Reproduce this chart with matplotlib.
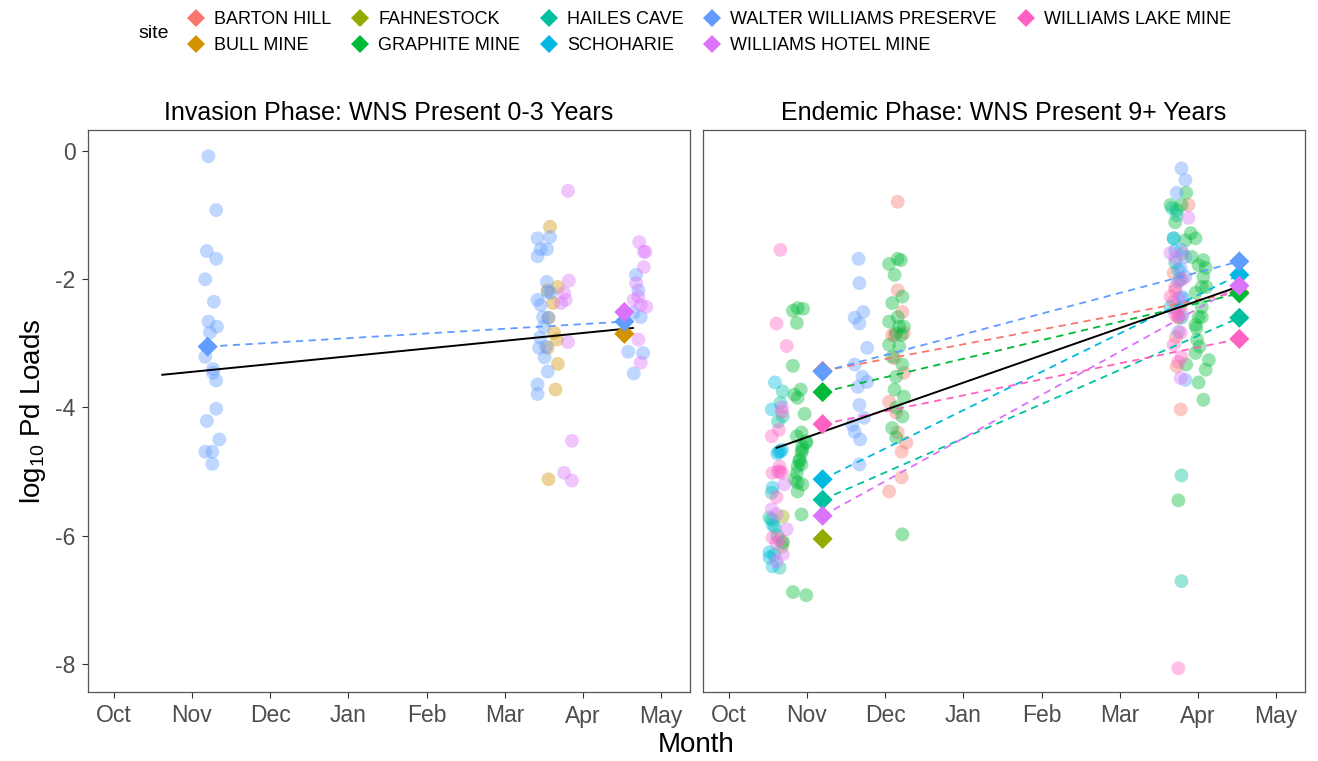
import numpy as np
import matplotlib.pyplot as plt
from matplotlib.lines import Line2D

plt.rcParams['font.family'] = ['Liberation Sans', 'DejaVu Sans']
plt.rcParams['mathtext.fontset'] = 'custom'
plt.rcParams['mathtext.rm'] = 'Liberation Sans'

sites = ["BARTON HILL", "BULL MINE", "FAHNESTOCK", "GRAPHITE MINE", "HAILES CAVE",
         "SCHOHARIE", "WALTER WILLIAMS PRESERVE", "WILLIAMS HOTEL MINE", "WILLIAMS LAKE MINE"]
colors = ["#F8766D", "#D39200", "#93AA00", "#00BA38", "#00C19F",
          "#00B9E3", "#619CFF", "#DB72FB", "#FF61C3"]
months = ["Oct", "Nov", "Dec", "Jan", "Feb", "Mar", "Apr", "May"]
titles = ["Invasion Phase: WNS Present 0-3 Years", "Endemic Phase: WNS Present 9+ Years"]

# x = months since 1 Oct, y = log10 Pd load
# ---- invasion phase samples
inv_wwp_x = [1.21, 1.31, 1.19, 1.31, 1.17, 1.28, 1.21, 1.32, 1.23, 1.17, 1.27, 1.27, 1.31, 1.31, 1.19, 1.35, 1.17, 1.26, 1.26,
             5.42, 5.58, 5.46, 5.54, 5.42, 5.54, 5.42, 5.46, 5.55, 5.59, 5.49, 5.56, 5.50, 5.45, 5.44, 5.53, 5.51, 5.55, 5.42, 5.42,
             6.68, 6.71, 6.65, 6.74, 6.58, 6.77, 6.65]
inv_wwp_y = [-0.08, -0.92, -1.56, -1.68, -2.00, -2.35, -2.66, -2.74, -2.83, -3.21, -3.40, -3.46, -3.58, -4.02, -4.21, -4.50, -4.69, -4.69, -4.88,
             -1.36, -1.34, -1.53, -1.53, -1.64, -2.04, -2.32, -2.40, -2.20, -2.21, -2.59, -2.60, -2.74, -2.91, -3.07, -3.05, -3.22, -3.44, -3.64, -3.79,
             -1.93, -2.17, -2.52, -2.59, -3.13, -3.15, -3.47]
inv_bull_x = [5.58, 5.68, 5.55, 5.62, 5.63, 5.67, 5.55, 5.68, 5.65, 5.56, 5.56]
inv_bull_y = [-1.18, -2.12, -2.17, -2.37, -2.83, -2.94, -3.07, -3.32, -3.72, -5.12, -2.60]
inv_whm_x = [5.81, 5.82, 5.76, 5.78, 5.72, 5.81, 5.86, 5.76, 5.86,
             6.72, 6.78, 6.80, 6.78, 6.68, 6.71, 6.65, 6.74, 6.81, 6.71, 6.74]
inv_whm_y = [-0.62, -2.02, -2.21, -2.32, -2.37, -2.98, -4.52, -5.02, -5.14,
             -1.42, -1.57, -1.57, -1.81, -2.06, -2.27, -2.32, -2.40, -2.43, -2.94, -3.30]

# ---- endemic phase samples
end_bh_x = [2.16, 2.16, 2.22, 2.12, 2.24, 2.09, 2.12, 2.24, 2.05, 2.14, 2.16, 2.27, 2.21, 2.21, 2.05,
            5.88, 5.69, 5.71, 5.69, 5.78, 5.73, 5.78, 5.75, 5.72, 5.80]
end_bh_y = [-0.79, -2.17, -2.51, -2.87, -2.84, -2.87, -3.23, -3.46, -3.91, -4.08, -4.39, -4.55, -4.69, -5.09, -5.31,
            -0.84, -1.90, -2.17, -2.35, -2.43, -3.36, -4.03, -2.60, -2.90, -1.60]
end_fah_x = [0.69, 0.69, 0.68]
end_fah_y = [-5.70, -6.09, -6.17]
end_gra_x = [0.82, 0.88, 0.95, 0.87, 0.82, 0.84, 0.92, 0.88, 0.97, 0.93, 0.87, 0.99, 0.94, 0.93, 0.90, 0.88, 0.99, 0.94, 0.91, 0.93,
             0.87, 0.84, 0.88, 0.94, 0.88, 0.93, 0.82, 0.99,
             2.05, 2.16, 2.20, 2.12, 2.22, 2.09, 2.05, 2.16, 2.18, 2.24, 2.14, 2.21, 2.05, 2.18, 2.09, 2.22, 2.14, 2.12, 2.24, 2.14,
             2.22, 2.09, 2.14, 2.22,
             5.85, 5.65, 5.73, 5.79, 5.71, 5.91, 5.97, 5.84, 6.07, 6.01, 5.92, 6.10, 6.07, 6.05, 6.11, 5.97, 6.05, 6.01, 5.97, 6.05,
             5.98, 5.99, 6.02, 5.97, 6.14, 6.10, 6.01, 6.07, 5.85, 5.75]
end_gra_y = [-2.49, -2.45, -2.46, -2.68, -3.35, -3.80, -3.72, -3.85, -4.10, -4.39, -4.45, -4.53, -4.61, -4.70, -4.84, -4.92, -4.55, -4.66, -4.81, -4.89,
             -5.02, -5.12, -5.17, -5.20, -5.31, -5.67, -6.88, -6.93,
             -1.76, -1.68, -1.70, -1.93, -2.27, -2.37, -2.66, -2.59, -2.74, -2.74, -2.84, -2.87, -3.02, -3.05, -3.21, -3.33, -3.52, -3.72, -3.83, -4.00,
             -4.14, -4.32, -4.47, -5.98,
             -0.65, -0.84, -0.92, -0.84, -1.11, -1.28, -1.36, -1.39, -1.70, -1.78, -1.65, -1.82, -1.96, -2.12, -2.12, -2.21, -2.43, -2.59, -2.71, -2.59,
             -2.76, -2.94, -3.05, -3.15, -3.26, -3.41, -3.61, -3.88, -3.33, -5.45]
end_hai_x = [0.69, 0.66, 0.63, 0.69, 0.55, 0.59, 0.69, 0.65, 0.52, 0.55, 0.62, 0.58,
             5.67, 5.73, 5.69, 5.71, 5.79, 5.79, 5.79]
end_hai_y = [-3.75, -3.93, -4.22, -4.14, -5.75, -5.87, -6.11, -6.50, -5.72, -5.33, -6.00, -6.30,
             -0.89, -1.00, -1.36, -1.74, -2.60, -5.06, -6.71]
end_sch_x = [0.59, 0.55, 0.64, 0.68, 0.62, 0.66, 0.56, 0.56, 0.52, 0.52, 0.56,
             5.69, 5.75, 5.65, 5.81, 5.71, 5.77]
end_sch_y = [-3.61, -4.03, -4.69, -4.66, -4.72, -4.69, -5.25, -5.83, -6.26, -6.34, -6.48,
             -1.36, -1.85, -2.43, -2.30, -1.55, -2.00]
end_wwp_x = [1.66, 1.67, 1.61, 1.72, 1.67, 1.77, 1.61, 1.71, 1.65, 1.77, 1.67, 1.73, 1.58, 1.61, 1.68, 1.67,
             5.79, 5.84, 5.73, 5.79, 5.84, 5.78, 5.84, 5.75, 5.79, 5.84, 5.75]
end_wwp_y = [-1.68, -2.06, -2.60, -2.51, -2.69, -3.07, -3.33, -3.52, -3.68, -3.60, -3.96, -4.16, -4.27, -4.38, -4.50, -4.89,
             -0.27, -0.45, -0.65, -1.54, -1.65, -1.83, -1.96, -2.04, -2.27, -3.57, -2.82]
end_whm_x = [0.68, 0.63, 0.71, 0.55, 0.61, 0.74, 0.61, 0.69, 0.61,
             5.88, 5.65, 5.71, 5.78, 5.75, 5.80]
end_whm_y = [-4.00, -5.00, -5.20, -5.59, -5.67, -5.90, -6.11, -6.29, -6.40,
             -1.04, -1.59, -1.67, -3.54, -2.30, -2.55]
end_wlm_x = [0.66, 0.61, 0.74, 0.55, 0.64, 0.68, 0.65, 0.65, 0.56, 0.68, 0.61, 0.56, 0.65,
             5.71, 5.65, 5.73, 5.75, 5.71, 5.69, 5.78, 5.79, 5.75, 5.75, 5.80]
end_wlm_y = [-1.54, -2.69, -3.04, -4.45, -4.35, -4.07, -4.92, -5.00, -5.02, -5.02, -5.40, -6.03, -6.06,
             -2.12, -2.27, -2.48, -2.59, -2.55, -3.02, -2.83, -3.21, -3.29, -8.07, -2.00]

# site means (early winter / late winter), None = no samples
mean_x = [1.2, 6.53]
inv_early = [None, None, None, None, None, None, -3.05, None, None]
inv_late = [None, -2.85, None, None, None, None, -2.66, -2.51, None]
end_early = [-3.43, None, -6.05, -3.76, -5.44, -5.12, -3.44, -5.69, -4.26]
end_late = [-2.20, None, None, -2.22, -2.60, -1.93, -1.72, -2.10, -2.93]

# overall trend
inv_trend_x = [0.62, 6.64]
inv_trend_y = [-3.49, -2.76]
end_trend_x = [0.61, 6.60]
end_trend_y = [-4.63, -2.08]

inv_pts = [(1, inv_bull_x, inv_bull_y), (6, inv_wwp_x, inv_wwp_y), (7, inv_whm_x, inv_whm_y)]
end_pts = [(0, end_bh_x, end_bh_y), (2, end_fah_x, end_fah_y), (3, end_gra_x, end_gra_y),
           (4, end_hai_x, end_hai_y), (5, end_sch_x, end_sch_y), (6, end_wwp_x, end_wwp_y),
           (7, end_whm_x, end_whm_y), (8, end_wlm_x, end_wlm_y)]

fig = plt.figure(figsize=(13.18, 7.61), dpi=100)
ax1 = fig.add_axes([88/1318, 1 - 692/761, 602/1318, 562/761])
ax2 = fig.add_axes([703/1318, 1 - 692/761, 602/1318, 562/761])

panels = [(ax1, inv_pts, inv_early, inv_late, inv_trend_x, inv_trend_y),
          (ax2, end_pts, end_early, end_late, end_trend_x, end_trend_y)]

for i, (ax, pts, early, late, tx, ty) in enumerate(panels):
    for k, xs, ys in pts:
        ax.scatter(xs, ys, s=100, color=colors[k], alpha=0.4, edgecolors='none', zorder=2)
    for k in range(len(sites)):
        if early[k] is not None and late[k] is not None:
            ax.plot(mean_x, [early[k], late[k]], color=colors[k], lw=1.3,
                    dashes=(4, 3), zorder=3)
    ax.plot(tx, ty, color='black', lw=1.4, zorder=4)
    for k in range(len(sites)):
        for xm, v in zip(mean_x, [early[k], late[k]]):
            if v is not None:
                ax.scatter([xm], [v], s=105, marker='D', color=colors[k],
                           edgecolors='none', zorder=5)

    ax.set_xlim(-0.33, 7.37)
    ax.set_ylim(-8.44, 0.33)
    ax.set_xticks(range(len(months)))
    ax.set_xticklabels(months)
    ax.set_yticks([0, -2, -4, -6, -8])
    ax.set_yticklabels(['0', '-2', '-4', '-6', '-8'])
    ax.tick_params(direction='out', length=4, width=0.8, color='#333333',
                   labelcolor='#4D4D4D', labelsize=16.5, pad=5)
    for sp in ax.spines.values():
        sp.set_color('#555555')
        sp.set_linewidth(0.9)
    ax.set_title(titles[i], fontsize=18, pad=7)

ax2.tick_params(axis='y', left=False, labelleft=False)

fig.text(696/1318, 1 - 745/761, 'Month', ha='center', va='center', fontsize=20)
fig.text(33/1318, 1 - 411/761, r'log$_{\mathrm{10}}$ Pd Loads', ha='center', va='center',
         rotation=90, fontsize=20)

handles = [Line2D([], [], marker='D', ls='', color=c, markersize=9, markeredgewidth=0)
           for c in colors]
fig.text(138/1318, 1 - 33/761, 'site', ha='left', va='center', fontsize=14)
fig.legend(handles, sites, ncol=5, loc='upper left', bbox_to_anchor=(176/1318, 1.0),
           frameon=False, fontsize=13, handlelength=1.0, handletextpad=0.5,
           columnspacing=1.1, labelspacing=0.5, borderaxespad=0.2)

fig.savefig('out.png', dpi=100)
